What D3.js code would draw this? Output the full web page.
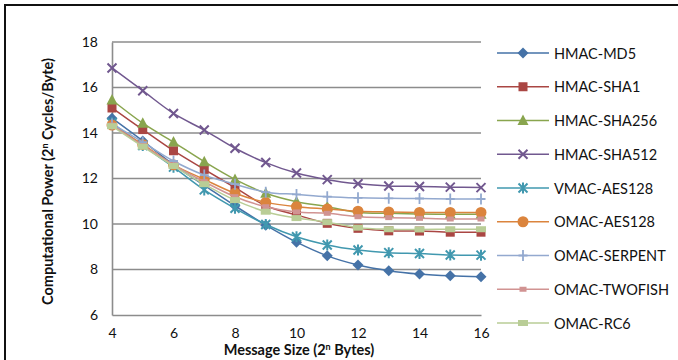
<!DOCTYPE html>
<html>
<head>
    <meta charset="utf-8">
    <script src="https://d3js.org/d3.v7.min.js"></script>
    <style>
        body { margin: 0; background: white; }
        text { font-family: Lato, "Open Sans", sans-serif; }
    </style>
</head>
<body>
<div id="chart"></div>
<script>
    // message size exponents
    const sizes = [4, 5, 6, 7, 8, 9, 10, 11, 12, 13, 14, 15, 16];

    const seriesNames = ["HMAC-MD5", "HMAC-SHA1", "HMAC-SHA256", "HMAC-SHA512", "VMAC-AES128",
        "OMAC-AES128", "OMAC-SERPENT", "OMAC-TWOFISH", "OMAC-RC6"];

    const hmacMd5 = [14.65, 13.65, 12.6, 11.7, 10.8, 9.95, 9.2, 8.6, 8.2, 7.95, 7.8, 7.72, 7.68];
    const hmacSha1 = [15.1, 14.15, 13.22, 12.4, 11.6, 10.8, 10.4, 10.03, 9.81, 9.7, 9.69, 9.64, 9.64];
    const hmacSha256 = [15.45, 14.43, 13.6, 12.74, 11.96, 11.35, 10.98, 10.76, 10.51, 10.47, 10.44, 10.43, 10.43];
    const hmacSha512 = [16.86, 15.86, 14.86, 14.13, 13.33, 12.7, 12.24, 11.95, 11.77, 11.67, 11.65, 11.62, 11.6];
    const vmacAes128 = [14.45, 13.45, 12.5, 11.5, 10.69, 9.98, 9.44, 9.08, 8.86, 8.74, 8.7, 8.64, 8.63];
    const omacAes128 = [14.35, 13.5, 12.6, 11.96, 11.35, 10.95, 10.76, 10.66, 10.56, 10.53, 10.51, 10.51, 10.51];
    const omacSerpent = [14.4, 13.6, 12.77, 12.15, 11.75, 11.4, 11.3, 11.2, 11.15, 11.13, 11.12, 11.1, 11.1];
    const omacTwofish = [14.35, 13.45, 12.6, 11.86, 11.2, 10.76, 10.53, 10.47, 10.32, 10.28, 10.25, 10.22, 10.22];
    const omacRc6 = [14.3, 13.4, 12.55, 11.75, 11.05, 10.54, 10.26, 10.08, 9.84, 9.77, 9.76, 9.77, 9.77];

    const xTicks = [4, 6, 8, 10, 12, 14, 16];
    const yTicks = [6, 8, 10, 12, 14, 16, 18];

    const allValues = [hmacMd5, hmacSha1, hmacSha256, hmacSha512, vmacAes128,
        omacAes128, omacSerpent, omacTwofish, omacRc6];

    const colors = ["#4572A7", "#AA4643", "#89A54E", "#71588F", "#4198AF",
        "#DB843D", "#93A9CF", "#D19392", "#B9CD96"];
    const markers = ["diamond", "square", "triangle", "x", "star", "circle", "plus", "dash", "longdash"];

    const W = 678, H = 360;
    const svg = d3.select("#chart").append("svg")
        .attr("width", W).attr("height", H);

    svg.append("rect").attr("width", W).attr("height", H).attr("fill", "white");
    // outer frame
    svg.append("rect")
        .attr("x", 5).attr("y", 5).attr("width", 690).attr("height", 380)
        .attr("fill", "none").attr("stroke", "#111").attr("stroke-width", 2);

    const plot = { left: 112, right: 481, top: 42, bottom: 315 };

    const x = d3.scaleLinear().domain([4, 16]).range([plot.left, plot.right]);
    const y = d3.scaleLinear().domain([6, 18]).range([plot.bottom, plot.top]);

    // gridlines
    svg.append("g")
        .selectAll("line")
        .data(yTicks.filter(d => d > 6))
        .join("line")
        .attr("x1", plot.left).attr("x2", plot.right)
        .attr("y1", d => y(d)).attr("y2", d => y(d))
        .attr("stroke", "#8c8c8c").attr("stroke-width", 1.6);

    // axes
    const yAxis = svg.append("g")
        .attr("transform", `translate(${plot.left},0)`)
        .call(d3.axisLeft(y).tickValues(yTicks).tickSize(0).tickPadding(14));
    const xAxis = svg.append("g")
        .attr("transform", `translate(0,${plot.bottom})`)
        .call(d3.axisBottom(x).tickValues(xTicks).tickSize(0).tickPadding(13));

    [yAxis, xAxis].forEach(a => {
        a.select(".domain").attr("stroke", "#8c8c8c").attr("stroke-width", 1.6);
        a.selectAll("text").attr("font-size", 14).attr("fill", "#111")
            .style("font-family", "Lato, sans-serif");
    });

    // axis titles
    const xTitle = svg.append("text")
        .attr("x", 299).attr("y", 355)
        .attr("text-anchor", "middle")
        .attr("font-size", 14.5).attr("font-weight", "bold").attr("fill", "#111");
    xTitle.append("tspan").text("Message Size (2");
    xTitle.append("tspan").attr("font-size", 9).attr("dy", -5).text("n");
    xTitle.append("tspan").attr("dy", 5).text(" Bytes)");

    const yTitle = svg.append("text")
        .attr("transform", `translate(53,${(plot.top + plot.bottom) / 2 + 3}) rotate(-90)`)
        .attr("text-anchor", "middle")
        .attr("font-size", 14.5).attr("font-weight", "bold").attr("fill", "#111");
    yTitle.append("tspan").text("Computational Power (2");
    yTitle.append("tspan").attr("font-size", 9).attr("dy", -5).text("n");
    yTitle.append("tspan").attr("dy", 5).text(" Cycles/Byte)");

    const line = d3.line()
        .x((d, i) => x(sizes[i]))
        .y(d => y(d))
        .curve(d3.curveCatmullRom.alpha(0.5));

    function drawMarker(g, type, color) {
        const s = 4.5;
        if (type === "diamond") {
            g.append("path").attr("d", `M0,${-s - 1}L${s + 1},0L0,${s + 1}L${-s - 1},0Z`).attr("fill", color);
        } else if (type === "square") {
            g.append("rect").attr("x", -s).attr("y", -s).attr("width", 2 * s).attr("height", 2 * s).attr("fill", color);
        } else if (type === "triangle") {
            g.append("path").attr("d", `M0,${-s - 1.5}L${s + 1},${s}L${-s - 1},${s}Z`).attr("fill", color);
        } else if (type === "x") {
            g.append("path").attr("d", `M${-s},${-s}L${s},${s}M${-s},${s}L${s},${-s}`)
                .attr("stroke", color).attr("stroke-width", 2);
        } else if (type === "star") {
            g.append("path").attr("d", `M${-s},${-s}L${s},${s}M${-s},${s}L${s},${-s}M0,${-s - 1}L0,${s + 1}`)
                .attr("stroke", color).attr("stroke-width", 2);
        } else if (type === "circle") {
            g.append("circle").attr("r", s + 1).attr("fill", color);
        } else if (type === "plus") {
            g.append("path").attr("d", `M${-s},0L${s},0M0,${-s - 1}L0,${s + 1}`)
                .attr("stroke", color).attr("stroke-width", 1.8);
        } else if (type === "dash") {
            g.append("rect").attr("x", -3.5).attr("y", -2.5).attr("width", 7).attr("height", 5).attr("fill", color);
        } else if (type === "longdash") {
            g.append("rect").attr("x", -5).attr("y", -3).attr("width", 10).attr("height", 6).attr("fill", color);
        }
    }

    // series, drawn in legend order
    allValues.forEach((vals, k) => {
        svg.append("path")
            .datum(vals)
            .attr("fill", "none")
            .attr("stroke", colors[k])
            .attr("stroke-width", 1.5)
            .attr("d", line);
        vals.forEach((v, i) => {
            const g = svg.append("g").attr("transform", `translate(${x(sizes[i])},${y(v)})`);
            drawMarker(g, markers[k], colors[k]);
        });
    });

    // legend
    const legend = svg.append("g").attr("transform", "translate(497,53)");
    seriesNames.forEach((name, k) => {
        const item = legend.append("g").attr("transform", `translate(0,${k * 33.75})`);
        item.append("line").attr("x1", 0).attr("x2", 52)
            .attr("stroke", colors[k]).attr("stroke-width", 1.5);
        drawMarker(item.append("g").attr("transform", "translate(26,0)"), markers[k], colors[k]);
        item.append("text").attr("x", 57).attr("y", 5.5)
            .attr("font-size", 14.5).attr("fill", "#111").text(name);
    });
</script>
</body>
</html>
